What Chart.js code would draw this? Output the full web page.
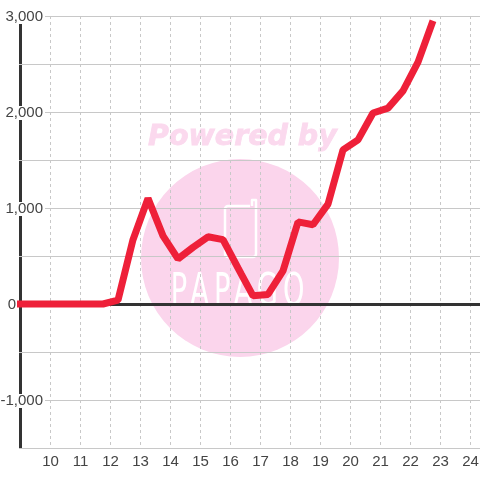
<!DOCTYPE html>
<html>
<head>
<meta charset="utf-8">
<style>
html,body{margin:0;padding:0;background:#fff}
canvas{display:block}
</style>
<script src="https://cdn.jsdelivr.net/npm/chart.js@4"></script>
</head>
<body>
<canvas id="myChart" width="480" height="480"></canvas>
<script>
// half hour steps
var hours = [8.75,9.25,9.75,10.25,10.75,11.25,11.75,12.25,12.75,13.25,13.75,14.25,14.75,15.25,15.75,16.25,16.75,17.25,17.75,18.25,18.75,19.25,19.75,20.25,20.75,21.25,21.75,22.25,22.75];
var values = [0,0,0,0,0,0,0,40,670,1100,710,470,590,700,670,375,85,100,345,855,825,1040,1605,1710,1990,2040,2220,2520,2950];
var yLabelled = [3000,2000,1000,0,-1000];

var textColor = '#444';
var gridColor = '#c8c8c8';
var axisColor = '#333';

var watermark = {
    id: 'watermark',
    beforeDraw: function(chart){
        var c = chart.ctx;
        c.save();
        c.fillStyle = '#fbd5ec';
        c.beginPath();
        c.arc(240, 258, 99, 0, Math.PI*2);
        c.fill();
        c.fillStyle = '#fbd9ee';
        c.strokeStyle = '#fbd9ee';
        c.lineWidth = 0.8;
        c.font = 'italic bold 28.5px "DejaVu Sans"';
        c.textAlign = 'left';
        c.textBaseline = 'alphabetic';
        c.fillText('Powered by', 148, 145);
        c.strokeText('Powered by', 148, 145);
        // phone shape of the logo
        c.strokeStyle = '#fff';
        c.lineWidth = 2.5;
        c.lineJoin = 'round';
        c.beginPath();
        c.moveTo(250, 206);
        c.lineTo(228, 206);
        c.arcTo(225, 206, 225, 209, 3);
        c.lineTo(225, 254);
        c.arcTo(225, 257, 228, 257, 3);
        c.lineTo(253, 257);
        c.arcTo(256, 257, 256, 254, 3);
        c.lineTo(256, 200);
        c.lineTo(252, 200);
        c.lineTo(252, 206);
        c.stroke();
        c.fillStyle = '#fff';
        c.font = '44px "DejaVu Sans ExtraLight","DejaVu Sans"';
        c.letterSpacing = '8px';
        c.textAlign = 'center';
        c.translate(240, 305);
        c.scale(0.62, 1);
        c.fillText('PAPAGO', 0, 0);
        c.restore();
    }
};

var yTickLabels = {
    id: 'yTickLabels',
    afterDraw: function(chart){
        var c = chart.ctx;
        var y = chart.scales.y;
        c.save();
        c.font = '15px "Liberation Sans"';
        c.textBaseline = 'middle';
        c.textAlign = 'right';
        yLabelled.forEach(function(v){
            var py = y.getPixelForValue(v);
            if(v == 0){
                c.fillStyle = textColor;
                c.fillText('0', 16, py+1);
                return;
            }
            c.fillStyle = '#fff';
            c.fillRect(0, py-6, 45, 14);
            c.fillStyle = textColor;
            c.fillText(v.toLocaleString('en-US'), 43, py+1);
        });
        c.restore();
    }
};

var ctx = document.getElementById('myChart').getContext('2d');
var chart = new Chart(ctx, {
    type: 'line',
    data: {
        datasets: [{
            data: hours.map(function(h,i){ return {x:h, y:values[i]}; }),
            borderColor: '#ee2039',
            borderWidth: 7,
            borderCapStyle: 'butt',
            borderJoinStyle: 'bevel',
            pointRadius: 0,
            tension: 0,
            clip: {left:2, top:0, right:0, bottom:0}
        }]
    },
    options: {
        responsive: false,
        animation: false,
        layout: {padding: {left:19, top:16}},
        plugins: {legend:{display:false}, tooltip:{enabled:false}},
        scales: {
            x: {
                type: 'linear',
                min: 8.95,
                max: 24.3167,
                afterFit: function(s){ s.height = 32; s.paddingLeft = 0; s.paddingRight = 0; },
                border: {
                    display: false,
                    dash: function(ctx){ return ctx.tick && ctx.tick.value == 9 ? [] : [3,3]; }
                },
                grid: {
                    drawTicks: false,
                    color: function(ctx){ return ctx.tick && ctx.tick.value == 9 ? axisColor : gridColor; },
                    lineWidth: function(ctx){ return ctx.tick && ctx.tick.value == 9 ? 3 : 1; }
                },
                ticks: {
                    stepSize: 1,
                    includeBounds: false,
                    maxRotation: 0,
                    autoSkip: false,
                    padding: 5,
                    color: textColor,
                    font: {family:'"Liberation Sans"', size:15},
                    callback: function(v){ return v == 9 ? '' : v; }
                }
            },
            y: {
                min: -1500,
                max: 3000,
                afterFit: function(s){ s.width = 0; s.paddingTop = 0; s.paddingBottom = 0; },
                border: {display:false},
                grid: {
                    drawTicks: false,
                    color: function(ctx){ return ctx.tick && ctx.tick.value == 0 ? axisColor : gridColor; },
                    lineWidth: function(ctx){ return ctx.tick && ctx.tick.value == 0 ? 3 : 1; }
                },
                ticks: {display:false, stepSize:500}
            }
        }
    },
    plugins: [watermark, yTickLabels]
});
</script>
</body>
</html>
